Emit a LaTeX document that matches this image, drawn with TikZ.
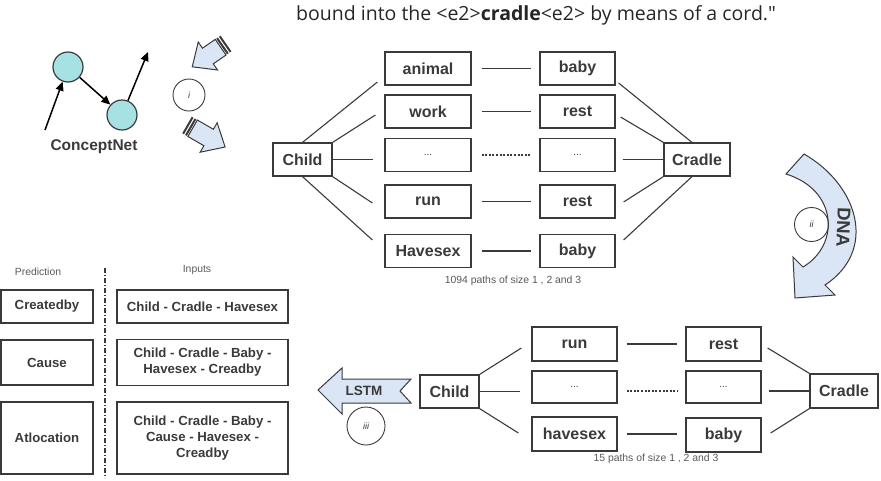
\documentclass[tikz,border=0pt]{standalone}
\usepackage{fontspec}
\setmainfont{Liberation Sans}
\newfontfamily\opensans{Open Sans}
\usetikzlibrary{arrows.meta,calc}
\definecolor{lb}{RGB}{218,230,245}
\definecolor{cy}{RGB}{166,226,228}
\definecolor{ln}{RGB}{58,58,58}
\tikzset{
  box/.style={draw=ln, line width=1.2pt, inner sep=0pt, text=ln, font=\fontsize{16}{19}\selectfont\bfseries, minimum height=33pt},
  colA/.style={box, minimum width=86pt},
  colB/.style={box, minimum width=75pt},
  dotsbox/.style={font=\fontsize{10}{12}\selectfont},
  tbox/.style={draw=ln, line width=1.2pt, inner sep=0pt, text=ln, font=\fontsize{13.2}{16}\selectfont\bfseries, align=center},
  conn/.style={draw=ln, line width=1.1pt},
  dotconn/.style={draw=ln, line width=1.1pt, dash pattern=on 2pt off 1.6pt},
  rnum/.style={circle, draw=ln, line width=0.9pt, inner sep=0pt, font=\fontsize{9}{10}\selectfont\itshape, text=ln},
  smalltxt/.style={font=\fontsize{10.4}{12}\selectfont, text=black!65, inner sep=0pt},
  cnode/.style={circle, draw=ln, line width=1.2pt, fill=cy, minimum size=30pt, inner sep=0pt},
  cnarrow/.style={draw=black, line width=1.5pt, -{Triangle[length=9pt,width=8pt]}},
  blockarrow/.style={draw=ln, line width=1pt, fill=lb, line join=miter},
}
\begin{document}
\begin{tikzpicture}[x=1pt,y=-1pt]
\useasboundingbox (0,0) rectangle (881,480);

% caption
\node[anchor=base west, inner sep=0pt, font=\opensans\fontsize{19.5}{22}\selectfont, text=black!85] (caption) at (296,20) {bound into the <e2>\textbf{cradle}<e2> by means of a cord."};

% ConceptNet
\node[cnode] (cn1) at (68,67) {};
\node[cnode] (cn2) at (122,115) {};
\coordinate (cn0) at (45,130);
\coordinate (cn3) at (148,52);
\draw[cnarrow] (cn0) -- (cn1);
\draw[cnarrow] (cn1) -- (cn2);
\draw[cnarrow] (cn2) -- (cn3);
\node[font=\fontsize{15.5}{18}\selectfont\bfseries, text=ln] (cnlabel) at (94,147) {ConceptNet};

% step i
\node[rnum, minimum size=32pt] (si) at (189,95) {i};
\begin{scope}[shift={(226,43.5)}, rotate=214.6]
  \fill[ln] (0,-9.5) rectangle (2,9.5);
  \fill[ln] (3.3,-9.5) rectangle (5.3,9.5);
  \draw[blockarrow] (6.5,-9.5) -- (22,-9.5) -- (22,-17) -- (41,0) -- (22,17) -- (22,9.5) -- (6.5,9.5) -- cycle;
\end{scope}
\begin{scope}[shift={(187,125)}, rotate=-30]
  \fill[ln] (0,-9.5) rectangle (2,9.5);
  \fill[ln] (3.3,-9.5) rectangle (5.3,9.5);
  \draw[blockarrow] (6.5,-9.5) -- (25,-9.5) -- (25,-17) -- (44,0) -- (25,17) -- (25,9.5) -- (6.5,9.5) -- cycle;
\end{scope}

% top graph
\node[box, minimum width=59pt] (tchild) at (302.5,159.5) {Child};
\node[box, minimum width=66pt] (tcradle) at (697,159.5) {Cradle};
\node[colA] (ta1) at (428,68.5) {animal};
\node[colA] (ta2) at (428,111.5) {work};
\node[colA, dotsbox] (ta3) at (428,155) {...};
\node[colA] (ta4) at (428,201.5) {run};
\node[colA] (ta5) at (428,251) {Havesex};
\node[colB] (tb1) at (577.5,68.5) {baby};
\node[colB] (tb2) at (577.5,111.5) {rest};
\node[colB, dotsbox] (tb3) at (577.5,155) {...};
\node[colB] (tb4) at (577.5,201.5) {rest};
\node[colB] (tb5) at (577.5,251) {baby};
\foreach \i in {1,2,4,5} {\draw[conn, shorten <=10pt, shorten >=8pt] (ta\i.east) -- (tb\i.west);}
\draw[dotconn, shorten <=10pt, shorten >=8pt] (ta3.east) -- (tb3.west);
\draw[conn] (tchild.north) -- ($(ta1.west)+(-7,13.5)$);
\draw[conn] (tchild.north east) -- ($(ta2.west)+(-9,3.5)$);
\draw[conn, shorten >=11pt] (tchild.east) -- (tchild.east -| ta3.west);
\draw[conn] (tchild.south east) -- ($(ta4.west)+(-12,1.5)$);
\draw[conn] (tchild.south) -- ($(ta5.west)+(-12,-11)$);
\draw[conn] ($(tb1.east)+(3,14.5)$) -- ($(tcradle.north)+(-5,0)$);
\draw[conn] ($(tb2.east)+(5,5.5)$) -- (tcradle.north west);
\draw[conn, shorten <=7pt] (tcradle.west -| tb3.east) -- (tcradle.west);
\draw[conn] ($(tb4.east)+(8,0.5)$) -- (tcradle.south west);
\draw[conn] ($(tb5.east)+(8,-11)$) -- ($(tcradle.south)+(-5,0)$);
\node[smalltxt] (tnote) at (513,281) {1094 paths of size 1 , 2 and 3};

% step ii (DNA)
\draw[blockarrow] (804,154) .. controls (858,185) and (878,250) .. (825,285) -- (835,295) -- (795,298) -- (793,257) -- (803,267) .. controls (840,245) and (838,190) .. (786,174) -- cycle;
\node[rotate=-92, font=\fontsize{18.5}{20}\selectfont\bfseries, text=ln] (dna) at (843.5,227.5) {DNA};
\node[rnum, minimum size=34pt] (sii) at (811.5,224.5) {ii};

% bottom graph
\node[box, minimum width=59pt] (bchild) at (449.5,391.5) {Child};
\node[box, minimum width=68pt, minimum height=34pt] (bcradle) at (844,391) {Cradle};
\node[colA, minimum width=85pt, minimum height=34pt] (ba1) at (574.5,344) {run};
\node[colA, minimum width=85pt, minimum height=32pt, dotsbox] (ba2) at (574.5,387) {...};
\node[colA, minimum width=85pt, minimum height=34pt] (ba3) at (574.5,434) {havesex};
\node[colB, minimum height=34pt] (bb1) at (723.5,344) {rest};
\node[colB, minimum height=32pt, dotsbox] (bb2) at (723.5,387) {...};
\node[colB, minimum height=34pt] (bb3) at (723.5,435) {baby};
\draw[conn, shorten <=9pt, shorten >=8pt] (ba1.east) -- (bb1.west);
\draw[dotconn, shorten <=9pt, shorten >=8pt] ($(ba2.east)+(0,4)$) -- ($(bb2.west)+(0,4)$);
\draw[conn, shorten <=9pt, shorten >=8pt] (ba3.east) -- (ba3.east -| bb3.west);
\draw[conn] (bchild.north east) -- ($(ba1.west)+(-10,4)$);
\draw[conn, shorten >=11pt] (bchild.east) -- (bchild.east -| ba2.west);
\draw[conn] (bchild.south east) -- ($(ba3.west)+(-13,-1)$);
\draw[conn] ($(bb1.east)+(6,4)$) -- (bcradle.north west);
\draw[conn, shorten <=7pt] (bcradle.west -| bb2.east) -- (bcradle.west);
\draw[conn] ($(bb3.east)+(9,-2)$) -- (bcradle.south west);
\node[smalltxt] (bnote) at (656,459) {15 paths of size 1 , 2 and 3};

% step iii (LSTM)
\draw[blockarrow] (318,390) -- (342,368) -- (342,379) -- (411,379) -- (400,391) -- (411,403) -- (342,403) -- (342,414) -- cycle;
\node[font=\fontsize{13.5}{16}\selectfont\bfseries, text=ln] (lstm) at (364,391) {LSTM};
\node[rnum, minimum size=38pt] (siii) at (366,426) {iii};

% table
\node[smalltxt] (hpred) at (38,272) {Prediction};
\node[smalltxt] (hin) at (197,270) {Inputs};
\coordinate (vtop) at (105,268);
\coordinate (vbot) at (105,478);
\draw[draw=ln, line width=1.1pt, dash pattern=on 5pt off 2pt on 1pt off 2pt] (vtop) -- (vbot);
\node[tbox, minimum width=92pt, minimum height=33pt] (p1) at (47,306.5) {Createdby};
\node[tbox, minimum width=92pt, minimum height=45pt] (p2) at (47,362.5) {Cause};
\node[tbox, minimum width=92pt, minimum height=72pt] (p3) at (47,438) {Atlocation};
\node[tbox, minimum width=171pt, minimum height=33pt] (i1) at (202.5,306.5) {Child - Cradle - Havesex};
\node[tbox, minimum width=171pt, minimum height=46pt] (i2) at (202.5,362.5) {Child - Cradle - Baby -\\Havesex - Creadby};
\node[tbox, minimum width=171pt, minimum height=72pt] (i3) at (202.5,438) {Child - Cradle - Baby -\\Cause - Havesex -\\Creadby};
\end{tikzpicture}
\end{document}
